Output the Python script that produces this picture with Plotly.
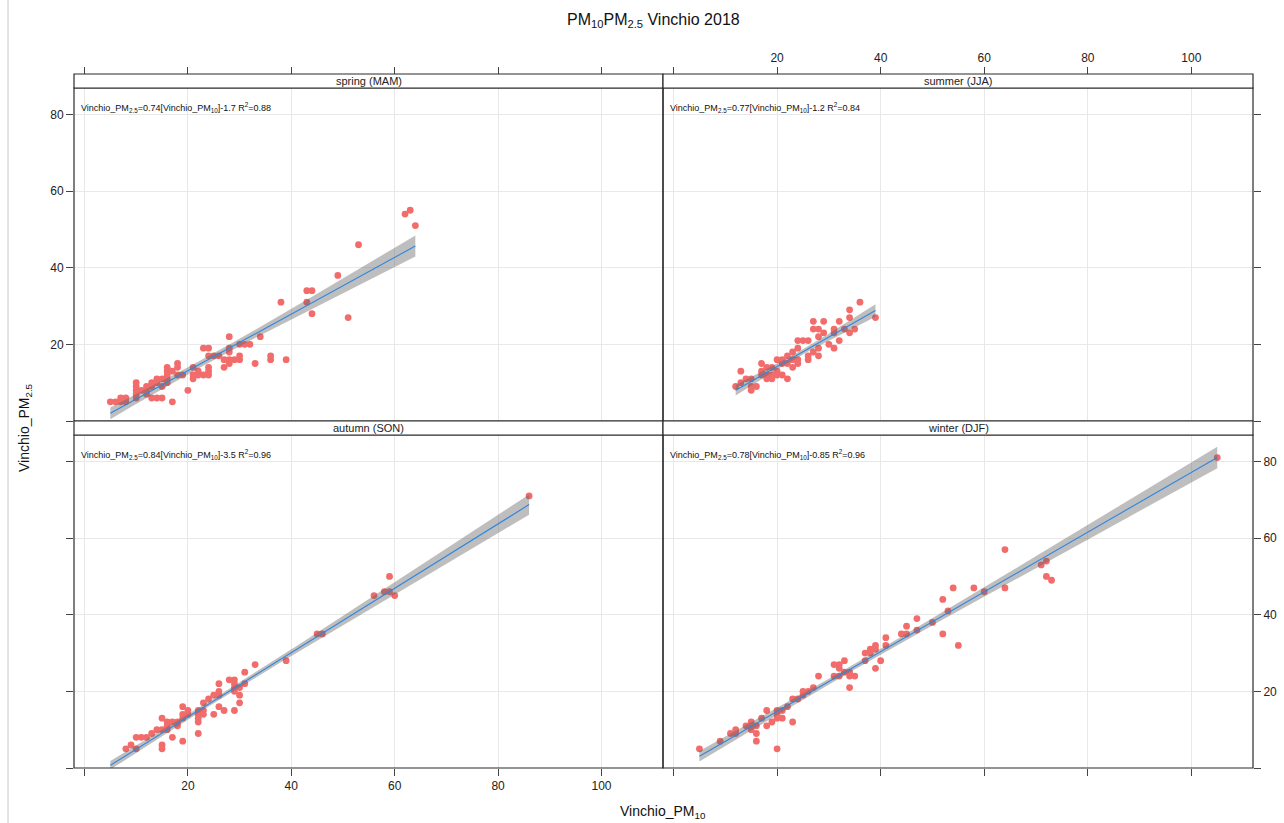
import numpy as np
import plotly.graph_objects as go

# ---- data: daily PM10 / PM2.5 at Vinchio, 2018, by season ----
seasons = ["spring (MAM)", "summer (JJA)", "autumn (SON)", "winter (DJF)"]

spring_pm10 = [5, 6, 7, 7, 8, 8, 10, 10, 10, 10, 10, 11, 12, 12, 12, 13, 13, 13, 14, 14, 14,
               15, 15, 15, 16, 16, 16, 16, 16, 17, 17, 18, 18, 18, 19, 20, 21, 21, 21, 22, 22,
               23, 23, 24, 24, 24, 24, 24, 25, 26, 27, 27, 28, 28, 28, 28, 28, 29, 30, 30, 30,
               31, 32, 33, 34, 36, 36, 38, 39, 43, 43, 44, 44, 49, 51, 53, 62, 63, 64]
spring_pm25 = [5, 5, 5, 6, 5, 6, 6, 7, 8, 9, 10, 8, 7, 8, 9, 6, 9, 10, 6, 10, 11,
               6, 9, 11, 10, 11, 12, 13, 14, 5, 13, 12, 14, 15, 12, 8, 11, 12, 14, 12, 13,
               12, 19, 12, 13, 14, 17, 19, 17, 17, 14, 16, 15, 16, 18, 19, 22, 16, 16, 17, 20,
               20, 20, 15, 22, 16, 17, 31, 16, 31, 34, 34, 28, 38, 27, 46, 54, 55, 51]

summer_pm10 = [12, 13, 13, 14, 15, 15, 15, 16, 17, 17, 17, 18, 18, 18, 19, 19, 19, 20, 20, 20,
               21, 21, 21, 22, 22, 22, 23, 23, 23, 24, 24, 24, 24, 25, 26, 26, 26, 27, 27, 27,
               28, 28, 28, 28, 29, 29, 30, 31, 31, 31, 32, 32, 33, 34, 34, 34, 35, 36, 39]
summer_pm25 = [9, 13, 10, 11, 8, 9, 11, 9, 15, 13, 12, 14, 12, 11, 14, 12, 11, 16, 13, 12,
               16, 15, 12, 17, 11, 15, 18, 16, 14, 21, 15, 16, 19, 21, 21, 17, 16, 26, 24, 18,
               24, 22, 19, 17, 26, 23, 20, 24, 23, 19, 26, 21, 24, 29, 27, 23, 24, 31, 27]

autumn_pm10 = [8, 9, 10, 10, 11, 12, 13, 14, 15, 15, 15, 15, 16, 16, 16, 17, 17, 18, 18, 19,
               19, 19, 19, 20, 20, 22, 22, 22, 22, 22, 23, 23, 23, 24, 25, 25, 26, 26, 26, 26,
               27, 28, 29, 29, 29, 29, 29, 30, 30, 30, 31, 31, 33, 39, 45, 46, 56, 58, 59, 59,
               60, 86]
autumn_pm25 = [5, 6, 5, 8, 8, 8, 9, 10, 13, 10, 6, 5, 12, 11, 10, 12, 8, 12, 11, 16,
               14, 13, 7, 15, 14, 15, 14, 13, 12, 9, 17, 15, 14, 18, 19, 14, 22, 20, 19, 16,
               15, 23, 23, 22, 21, 20, 15, 21, 19, 17, 25, 22, 27, 28, 35, 35, 45, 46, 46, 50,
               45, 71]

winter_pm10 = [5, 9, 11, 12, 12, 14, 15, 15, 15, 16, 16, 16, 17, 18, 18, 19, 20, 20, 20, 20,
               21, 21, 22, 23, 23, 24, 25, 25, 26, 27, 28, 31, 31, 32, 32, 32, 33, 33, 34, 34,
               34, 35, 37, 37, 38, 38, 39, 39, 39, 40, 41, 41, 44, 45, 45, 47, 47, 50, 52, 52,
               53, 54, 55, 58, 60, 64, 64, 71, 72, 72, 73, 105]
winter_pm25 = [5, 7, 9, 10, 9, 11, 12, 11, 10, 11, 9, 7, 13, 15, 11, 12, 15, 14, 13, 5,
               15, 13, 16, 18, 12, 18, 20, 19, 20, 21, 24, 27, 24, 27, 26, 24, 28, 25, 25, 24,
               21, 24, 28, 30, 31, 30, 32, 31, 26, 28, 34, 32, 35, 37, 35, 39, 36, 38, 44, 35,
               41, 47, 32, 47, 46, 57, 47, 53, 54, 50, 49, 81]

# linear fit reported for each season: PM2.5 = slope * PM10 + intercept
slopes = [0.74, 0.77, 0.84, 0.78]
intercepts = [-1.7, -1.2, -3.5, -0.85]
r_squared = [0.88, 0.84, 0.96, 0.96]
# PM10 span covered by each fitted line
fit_from = [5, 12, 5, 5]
fit_to = [64, 39, 86, 105]

x_ticks = [0, 20, 40, 60, 80, 100]
y_ticks = [0, 20, 40, 60, 80]

pm10 = [spring_pm10, summer_pm10, autumn_pm10, winter_pm10]
pm25 = [spring_pm25, summer_pm25, autumn_pm25, winter_pm25]

# ---- page geometry (pixels) ----
W, H = 1284, 823
col_px = [(74, 663), (663, 1253)]
row_px = [(88, 421), (435, 768)]      # plot areas, top to bottom
strip_h = 14
x_range = [-2.03, 111.9]
y_range = [0.0, 86.9]

FONT = "Liberation Sans, Arial, sans-serif"
POINT_COL = "#F26C6C"
BAND_COL = "rgba(100,100,100,0.42)"
LINE_COL = "#2F86E0"
BORDER = "#2b2b2b"
GRID = "#E8E8E8"
TICK_COL = "#444444"


def px(xp):
    return xp / W


def py(yp):
    return 1 - yp / H


def tick_setup(vals, labelled):
    """Tick marks at every value; labels on all but the zero tick when labelled."""
    if labelled:
        return dict(tickmode="array", tickvals=vals[1:], showticklabels=True,
                    minor=dict(tickmode="array", tickvals=vals[:1], ticks="outside",
                               ticklen=7, tickcolor=TICK_COL, showgrid=True,
                               gridcolor=GRID, gridwidth=1))
    return dict(tickmode="array", tickvals=vals, showticklabels=False)


fig = go.Figure()

panel_pos = [(0, 0), (1, 0), (0, 1), (1, 1)]  # (col, row)

for i in range(4):
    col, row = panel_pos[i]
    ax = "" if i == 0 else str(i + 1)
    x = np.asarray(pm10[i], float)
    y = np.asarray(pm25[i], float)

    # points
    fig.add_trace(go.Scatter(
        x=x, y=y, mode="markers", xaxis="x" + ax, yaxis="y" + ax,
        marker=dict(size=6.8, color=POINT_COL, symbol="circle", line=dict(width=0)),
        showlegend=False, hoverinfo="skip"))

    # 95% confidence band around the fitted line
    b, a = slopes[i], intercepts[i]
    n = len(x)
    resid = y - (a + b * x)
    s = np.sqrt(np.sum(resid ** 2) / (n - 2))
    xbar = x.mean()
    sxx = np.sum((x - xbar) ** 2)
    xs = np.linspace(fit_from[i], fit_to[i], 80)
    fit = a + b * xs
    half = 1.99 * s * np.sqrt(1.0 / n + (xs - xbar) ** 2 / sxx)
    fig.add_trace(go.Scatter(
        x=np.concatenate([xs, xs[::-1]]),
        y=np.concatenate([fit + half, (fit - half)[::-1]]),
        mode="lines", fill="toself", fillcolor=BAND_COL, line=dict(width=0),
        xaxis="x" + ax, yaxis="y" + ax, showlegend=False, hoverinfo="skip"))

    # fitted line
    fig.add_trace(go.Scatter(
        x=xs, y=fit, mode="lines", line=dict(color=LINE_COL, width=1.1),
        xaxis="x" + ax, yaxis="y" + ax, showlegend=False, hoverinfo="skip"))

    x0, x1 = col_px[col]
    y0, y1 = row_px[row]
    xdom = [px(x0), px(x1)]
    ydom = [py(y1), py(y0)]

    tickfont = dict(family=FONT, size=12, color="#222222")
    common = dict(showgrid=True, gridcolor=GRID, gridwidth=1, zeroline=False,
                  showline=False, ticks="outside", ticklen=7, tickcolor=TICK_COL,
                  tickfont=tickfont, fixedrange=True)

    if row == 0:
        # top row: ticks sit above the strip, labels only on the right panel
        xaxis = dict(domain=xdom, range=x_range, side="top", anchor="free",
                     position=py(y0 - strip_h), **common,
                     **tick_setup(x_ticks, col == 1))
    else:
        xaxis = dict(domain=xdom, range=x_range, side="bottom", anchor="y" + ax,
                     **common, **tick_setup(x_ticks, col == 0))

    if col == 0:
        yaxis = dict(domain=ydom, range=y_range, side="left", anchor="x" + ax,
                     **common, **tick_setup(y_ticks, row == 0))
    else:
        yaxis = dict(domain=ydom, range=y_range, side="right", anchor="x" + ax,
                     **common, **tick_setup(y_ticks, row == 1))

    fig.layout["xaxis" + ax] = xaxis
    fig.layout["yaxis" + ax] = yaxis

    # panel border
    fig.add_shape(type="rect", xref="paper", yref="paper",
                  x0=px(x0), x1=px(x1), y0=py(y1), y1=py(y0),
                  line=dict(color=BORDER, width=1.2), fillcolor="rgba(0,0,0,0)",
                  layer="above")
    # strip with season name
    fig.add_shape(type="rect", xref="paper", yref="paper",
                  x0=px(x0), x1=px(x1), y0=py(y0), y1=py(y0 - strip_h),
                  line=dict(color=BORDER, width=1.2), fillcolor="white",
                  layer="above")
    fig.add_annotation(text=seasons[i], xref="paper", yref="paper",
                       x=px((x0 + x1) / 2), y=py(y0 - strip_h / 2),
                       xanchor="center", yanchor="middle", showarrow=False,
                       font=dict(family=FONT, size=11, color="#222222"))

    # regression equation
    icpt = f"{a:g}" if a < 0 else f"+{a:g}"
    eq = (f"Vinchio_PM<sub>2.5</sub>={b:g}[Vinchio_PM<sub>10</sub>]{icpt} "
          f"R<sup>2</sup>={r_squared[i]:g}")
    fig.add_annotation(text=eq, xref="paper", yref="paper",
                       x=px(x0 + 5), y=py(y0 + 19), xanchor="left", yanchor="middle",
                       showarrow=False, font=dict(family=FONT, size=9, color="#111111"))

# titles
fig.add_annotation(text="PM<sub>10</sub>PM<sub>2.5</sub> Vinchio 2018", xref="paper",
                   yref="paper", x=px(653), y=py(21), xanchor="center", yanchor="middle",
                   showarrow=False, font=dict(family=FONT, size=16, color="#111111"))
fig.add_annotation(text="Vinchio_PM<sub>10</sub>", xref="paper", yref="paper",
                   x=px(663), y=py(812), xanchor="center", yanchor="middle",
                   showarrow=False, font=dict(family=FONT, size=14, color="#111111"))
fig.add_annotation(text="Vinchio_PM<sub>2.5</sub>", xref="paper", yref="paper",
                   x=px(25), y=py(428), xanchor="center", yanchor="middle", textangle=-90,
                   showarrow=False, font=dict(family=FONT, size=14, color="#111111"))

# thin frame line on the left edge of the page
fig.add_shape(type="line", xref="paper", yref="paper", x0=px(8), x1=px(8), y0=0, y1=1,
              line=dict(color="#C8C8C8", width=1))

fig.update_layout(width=W, height=H, margin=dict(l=0, r=0, t=0, b=0),
                  paper_bgcolor="white", plot_bgcolor="white", showlegend=False,
                  font=dict(family=FONT))

fig.write_html("out.html", config={"displayModeBar": False})
